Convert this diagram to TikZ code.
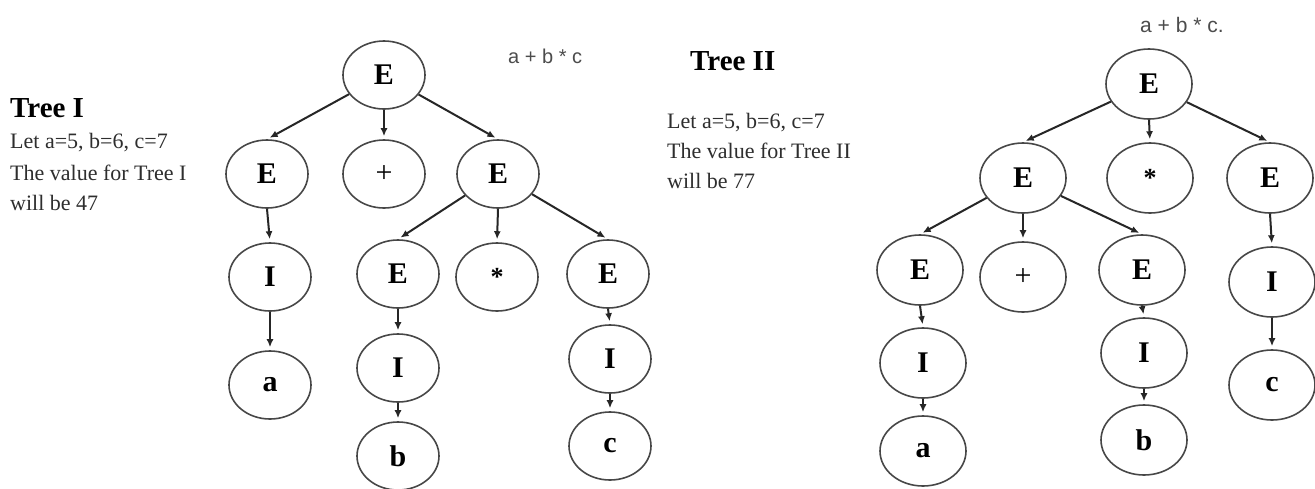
\documentclass[tikz,border=0pt]{standalone}
\usepackage{fontspec}
\setmainfont{Liberation Serif}
\newfontfamily\labelsans{Liberation Sans}
\usetikzlibrary{shapes.geometric,arrows.meta}
\begin{document}
\begin{tikzpicture}[x=1pt,y=-1pt,
  tnode/.style={ellipse,draw=black!72,line width=1.6pt,minimum width=82pt,minimum height=68pt,
    inner sep=0pt,font=\fontsize{30}{30}\selectfont\bfseries},
  tnodeB/.style={tnode,minimum width=86pt,minimum height=70pt},
  plussym/.style={font=\fontsize{30}{30}\selectfont},
  astx/.style={font=\fontsize{26}{26}\selectfont\bfseries},
  arr/.style={draw=black!85,line width=2pt,-{Latex[length=8pt,width=7pt]},shorten >=3pt},
  title/.style={anchor=base west,inner sep=0pt,font=\fontsize{29}{29}\selectfont\bfseries},
  body/.style={anchor=base west,inner sep=0pt,text=black!82,font=\fontsize{22}{22}\selectfont},
  expr/.style={anchor=base west,inner sep=0pt,text=black!70,font=\labelsans\fontsize{20}{20}\selectfont}]

\fill[white] (0,0) rectangle (1315,488);
\useasboundingbox (0,0) rectangle (1315,488);

% ---------- Tree I ----------
\node[title] (t1) at (10,117) {Tree I};
\node[body] (t1l1) at (10,148) {Let a=5, b=6, c=7};
\node[body] (t1l2) at (10,180) {The value for Tree I};
\node[body] (t1l3) at (10,210) {will be 47};
\node[expr] (x1) at (508,63) {a + b * c};

\node[tnode] (r1) at (384,75) {E};
\node[tnode] (e1) at (267,174) {E};
\node[tnode,plussym] (p1) at (384,174) {+};
\node[tnode] (e2) at (498,174) {E};
\node[tnode] (i1) at (270,277) {I};
\node[tnode] (a1) at (270,385) {a};
\node[tnode] (e3) at (398,274) {E};
\node[tnode,astx] (s1) at (497,277) {*};
\node[tnode] (e4) at (608,274) {E};
\node[tnode] (i2) at (398,368) {I};
\node[tnode] (b1) at (398,456) {b};
\node[tnode] (i3) at (610,359) {I};
\node[tnode] (c1) at (610,446) {c};

\draw[arr] (r1) -- (e1.north);
\draw[arr] (r1.south) -- (p1.north);
\draw[arr] (r1) -- (e2.north);
\draw[arr] (e1.south) -- (i1.north);
\draw[arr] (i1.south) -- (a1.north);
\draw[arr] (e2) -- (e3.north);
\draw[arr] (e2.south) -- (s1.north);
\draw[arr] (e2) -- (e4.north);
\draw[arr] (e3.south) -- (i2.north);
\draw[arr] (i2.south) -- (b1.north);
\draw[arr] (e4.south) -- (i3.north);
\draw[arr] (i3.south) -- (c1.north);

% ---------- Tree II ----------
\node[title] (t2) at (690,70) {Tree II};
\node[body] (t2l1) at (667,128) {Let a=5, b=6, c=7};
\node[body] (t2l2) at (667,158) {The value for Tree II};
\node[body] (t2l3) at (667,188) {will be 77};
\node[expr,font=\labelsans\fontsize{21}{21}\selectfont] (x2) at (1140,32) {a + b * c.};

\node[tnodeB] (r2) at (1149,84) {E};
\node[tnodeB] (f1) at (1023,178) {E};
\node[tnodeB,astx] (s2) at (1150,178) {*};
\node[tnodeB] (f2) at (1270,178) {E};
\node[tnodeB] (f3) at (920,270) {E};
\node[tnodeB,plussym] (p2) at (1023,277) {+};
\node[tnodeB] (f4) at (1142,270) {E};
\node[tnodeB] (i4) at (923,363) {I};
\node[tnodeB] (a2) at (923,451) {a};
\node[tnodeB] (i5) at (1144,353) {I};
\node[tnodeB] (b2) at (1144,440) {b};
\node[tnodeB] (i6) at (1272,282) {I};
\node[tnodeB] (c2) at (1272,385) {c};

\draw[arr] (r2) -- (f1.north);
\draw[arr] (r2.south) -- (s2.north);
\draw[arr] (r2) -- (f2.north);
\draw[arr] (f1) -- (f3.north);
\draw[arr] (f1.south) -- (p2.north);
\draw[arr] (f1) -- (f4.north);
\draw[arr] (f3.south) -- (i4.north);
\draw[arr] (i4.south) -- (a2.north);
\draw[arr] (f4.south) -- (i5.north);
\draw[arr] (i5.south) -- (b2.north);
\draw[arr] (f2.south) -- (i6.north);
\draw[arr] (i6.south) -- (c2.north);
\end{tikzpicture}
\end{document}
